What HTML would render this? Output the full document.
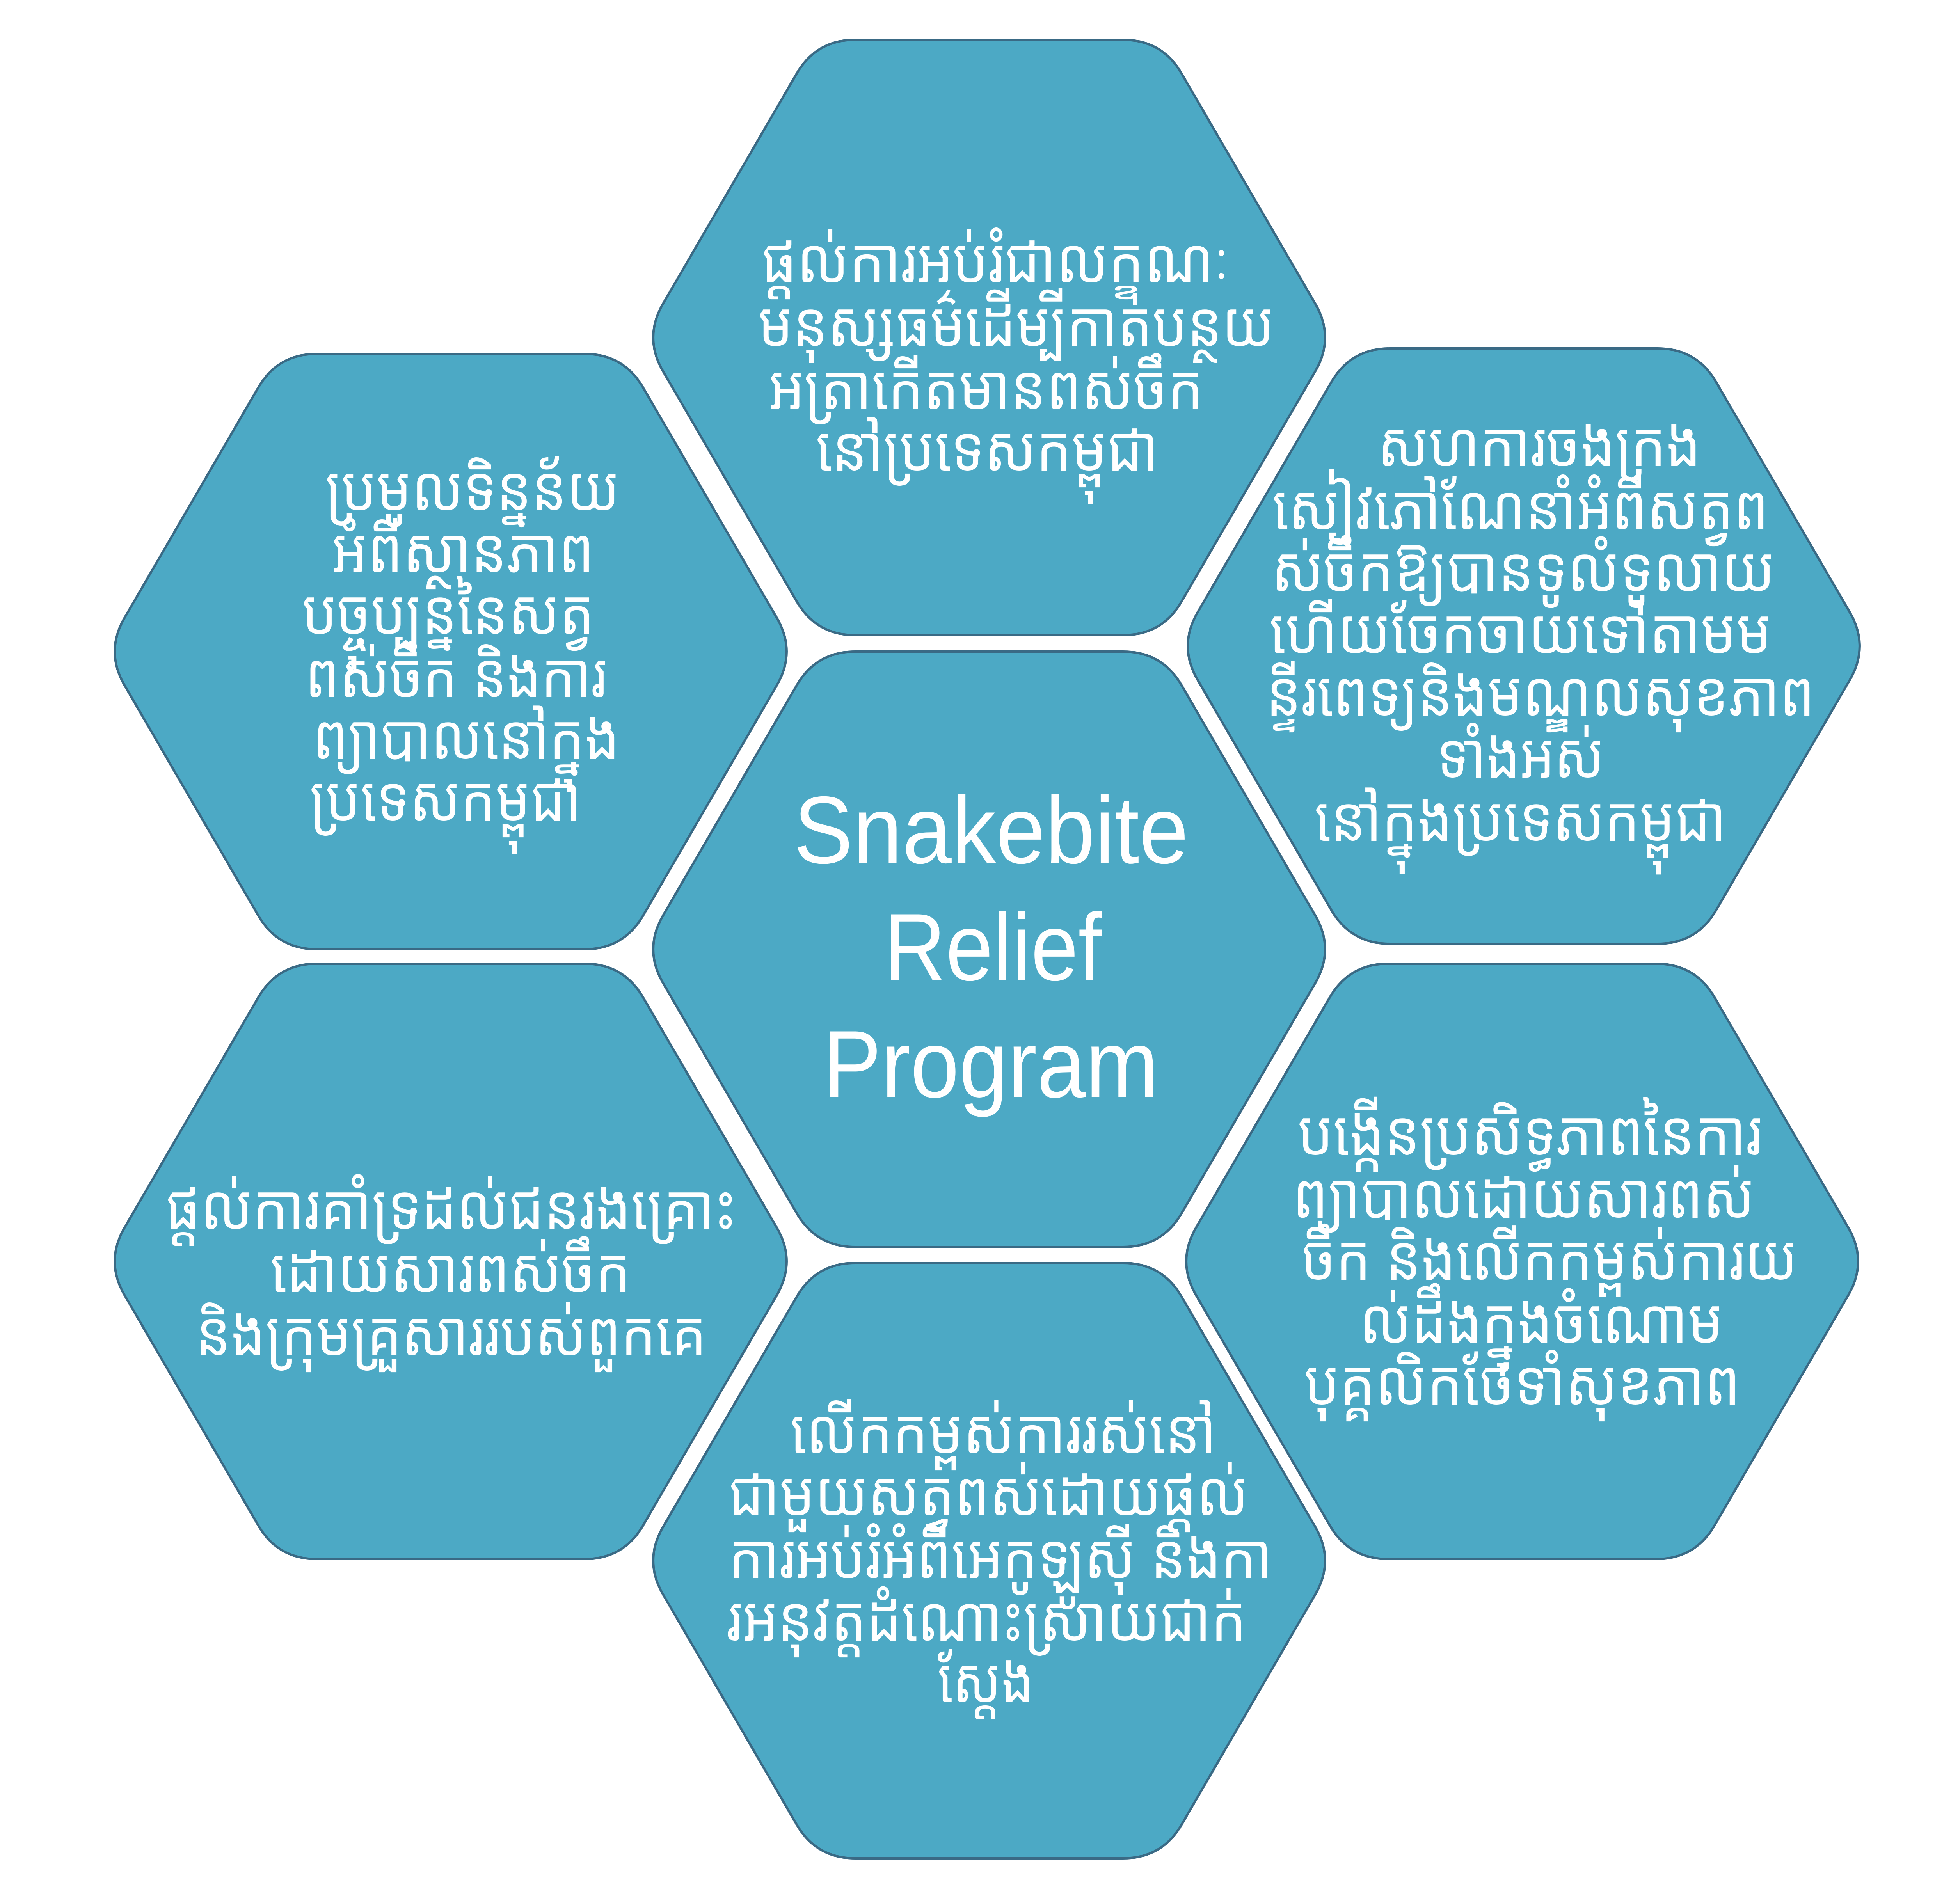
<!DOCTYPE html>
<html>
<head>
<meta charset="utf-8">
<style>
html,body{margin:0;padding:0;background:#ffffff;width:5072px;height:4880px;overflow:hidden}
svg{display:block}
.kh{fill:#ffffff;font-family:"Liberation Sans","Noto Sans Khmer","Khmer OS","Khmer OS System","DejaVu Sans",sans-serif;font-size:160px}
.en{fill:#ffffff;font-family:"Liberation Sans","DejaVu Sans",sans-serif;font-size:245px}
.hex{fill:#4ca9c5;stroke:#3a6a85;stroke-width:6}
</style>
</head>
<body>
<svg width="5072" height="4880" viewBox="0 0 5072 4880" xmlns="http://www.w3.org/2000/svg">
<rect width="5072" height="4880" fill="#ffffff"/>
<g>
<path class="hex" transform="translate(2535,865)" d="M-343,-763 L343,-763 Q443,-763 493.2,-676.5 L835.8,-86.5 Q886,0 835.8,86.5 L493.2,676.5 Q443,763 343,763 L-343,763 Q-443,763 -493.2,676.5 L-835.8,86.5 Q-886,0 -835.8,-86.5 L-493.2,-676.5 Q-443,-763 -343,-763 Z"/>
<path class="hex" transform="translate(2535,2433)" d="M-343,-763 L343,-763 Q443,-763 493.2,-676.5 L835.8,-86.5 Q886,0 835.8,86.5 L493.2,676.5 Q443,763 343,763 L-343,763 Q-443,763 -493.2,676.5 L-835.8,86.5 Q-886,0 -835.8,-86.5 L-493.2,-676.5 Q-443,-763 -343,-763 Z"/>
<path class="hex" transform="translate(2535,4000)" d="M-343,-763 L343,-763 Q443,-763 493.2,-676.5 L835.8,-86.5 Q886,0 835.8,86.5 L493.2,676.5 Q443,763 343,763 L-343,763 Q-443,763 -493.2,676.5 L-835.8,86.5 Q-886,0 -835.8,-86.5 L-493.2,-676.5 Q-443,-763 -343,-763 Z"/>
<path class="hex" transform="translate(1155,1670)" d="M-343,-763 L343,-763 Q443,-763 493.2,-676.5 L835.8,-86.5 Q886,0 835.8,86.5 L493.2,676.5 Q443,763 343,763 L-343,763 Q-443,763 -493.2,676.5 L-835.8,86.5 Q-886,0 -835.8,-86.5 L-493.2,-676.5 Q-443,-763 -343,-763 Z"/>
<path class="hex" transform="translate(3905,1656)" d="M-343,-763 L343,-763 Q443,-763 493.2,-676.5 L835.8,-86.5 Q886,0 835.8,86.5 L493.2,676.5 Q443,763 343,763 L-343,763 Q-443,763 -493.2,676.5 L-835.8,86.5 Q-886,0 -835.8,-86.5 L-493.2,-676.5 Q-443,-763 -343,-763 Z"/>
<path class="hex" transform="translate(1155,3233)" d="M-343,-763 L343,-763 Q443,-763 493.2,-676.5 L835.8,-86.5 Q886,0 835.8,86.5 L493.2,676.5 Q443,763 343,763 L-343,763 Q-443,763 -493.2,676.5 L-835.8,86.5 Q-886,0 -835.8,-86.5 L-493.2,-676.5 Q-443,-763 -343,-763 Z"/>
<path class="hex" transform="translate(3901,3233)" d="M-343,-763 L343,-763 Q443,-763 493.2,-676.5 L835.8,-86.5 Q886,0 835.8,86.5 L493.2,676.5 Q443,763 343,763 L-343,763 Q-443,763 -493.2,676.5 L-835.8,86.5 Q-886,0 -835.8,-86.5 L-493.2,-676.5 Q-443,-763 -343,-763 Z"/>
</g>

<!-- Center -->
<text class="en" x="2034" y="2212" textLength="1012" lengthAdjust="spacingAndGlyphs">Snakebite</text>
<text class="en" x="2266" y="2512" textLength="558" lengthAdjust="spacingAndGlyphs">Relief</text>
<text class="en" x="2109" y="2812" textLength="860" lengthAdjust="spacingAndGlyphs">Program</text>

<!-- Top -->
<text class="kh" x="1951" y="724" textLength="1200" lengthAdjust="spacingAndGlyphs">ផ្ដល់ការអប់រំជាលក្ខណៈ</text>
<text class="kh" x="1943" y="887" textLength="1323" lengthAdjust="spacingAndGlyphs">មនុស្សធម៌ដើម្បីកាត់បន្ថយ</text>
<text class="kh" x="1970" y="1049" textLength="1114" lengthAdjust="spacingAndGlyphs">អត្រាកើតមានពស់ចឹក</text>
<text class="kh" x="2091" y="1206" textLength="878" lengthAdjust="spacingAndGlyphs">នៅប្រទេសកម្ពុជា</text>

<!-- Upper left -->
<text class="kh" x="834" y="1308" textLength="754" lengthAdjust="spacingAndGlyphs">ប្រមូលទិន្នន័យ</text>
<text class="kh" x="850" y="1467" textLength="673" lengthAdjust="spacingAndGlyphs">អំពីស្ថានភាព</text>
<text class="kh" x="774" y="1625" textLength="749" lengthAdjust="spacingAndGlyphs">បច្ចុប្បន្ននៃសត្វ</text>
<text class="kh" x="782" y="1787" textLength="773" lengthAdjust="spacingAndGlyphs">ពស់ចឹក និងការ</text>
<text class="kh" x="802" y="1945" textLength="786" lengthAdjust="spacingAndGlyphs">ព្យាបាលនៅក្នុង</text>
<text class="kh" x="794" y="2103" textLength="696" lengthAdjust="spacingAndGlyphs">ប្រទេសកម្ពុជា</text>

<!-- Upper right -->
<text class="kh" x="3531" y="1195" textLength="828" lengthAdjust="spacingAndGlyphs">សហការចងក្រង</text>
<text class="kh" x="3261" y="1357" textLength="1272" lengthAdjust="spacingAndGlyphs">សៀវភៅណែនាំអំពីសត្វព</text>
<text class="kh" x="3258" y="1515" textLength="1291" lengthAdjust="spacingAndGlyphs">ស់ចឹកឱ្យបានទូលំទូលាយ</text>
<text class="kh" x="3253" y="1674" textLength="1288" lengthAdjust="spacingAndGlyphs">ហើយចែកចាយទៅតាមម</text>
<text class="kh" x="3245" y="1834" textLength="1406" lengthAdjust="spacingAndGlyphs">ន្ទីរពេទ្យនិងមណ្ឌលសុខភាព</text>
<text class="kh" x="3682" y="1993" textLength="429" lengthAdjust="spacingAndGlyphs">ទាំងអស់</text>
<text class="kh" x="3369" y="2155" textLength="1055" lengthAdjust="spacingAndGlyphs">នៅក្នុងប្រទេសកម្ពុជា</text>

<!-- Lower left -->
<text class="kh" x="424" y="3150" textLength="1463" lengthAdjust="spacingAndGlyphs">ផ្ដល់ការគាំទ្រដល់ជនរងគ្រោះ</text>
<text class="kh" x="693" y="3312" textLength="924" lengthAdjust="spacingAndGlyphs">ដោយសារពស់ចឹក</text>
<text class="kh" x="502" y="3474" textLength="1309" lengthAdjust="spacingAndGlyphs">និងក្រុមគ្រួសាររបស់ពួកគេ</text>

<!-- Lower right -->
<text class="kh" x="3326" y="2960" textLength="1190" lengthAdjust="spacingAndGlyphs">បង្កើនប្រសិទ្ធភាពនៃការ</text>
<text class="kh" x="3313" y="3121" textLength="1184" lengthAdjust="spacingAndGlyphs">ព្យាបាលដោយសារពស់</text>
<text class="kh" x="3337" y="3280" textLength="1269" lengthAdjust="spacingAndGlyphs">ចឹក និងលើកកម្ពស់ការយ</text>
<text class="kh" x="3485" y="3442" textLength="931" lengthAdjust="spacingAndGlyphs">ល់ដឹងក្នុងចំណោម</text>
<text class="kh" x="3342" y="3600" textLength="1118" lengthAdjust="spacingAndGlyphs">បុគ្គលិកថែទាំសុខភាព</text>

<!-- Bottom -->
<text class="kh" x="2025" y="3725" textLength="1092" lengthAdjust="spacingAndGlyphs">លើកកម្ពស់ការរស់នៅ</text>
<text class="kh" x="1867" y="3884" textLength="1332" lengthAdjust="spacingAndGlyphs">ជាមួយសត្វពស់ដោយផ្ដល់</text>
<text class="kh" x="1867" y="4045" textLength="1393" lengthAdjust="spacingAndGlyphs">ការអប់រំអំពីអេកូឡូស៊ី និងកា</text>
<text class="kh" x="1862" y="4205" textLength="1332" lengthAdjust="spacingAndGlyphs">រអនុវត្តដំណោះស្រាយជាក់</text>
<text class="kh" x="2403" y="4363" textLength="247" lengthAdjust="spacingAndGlyphs">ស្ដែង</text>
</svg>
</body>
</html>
